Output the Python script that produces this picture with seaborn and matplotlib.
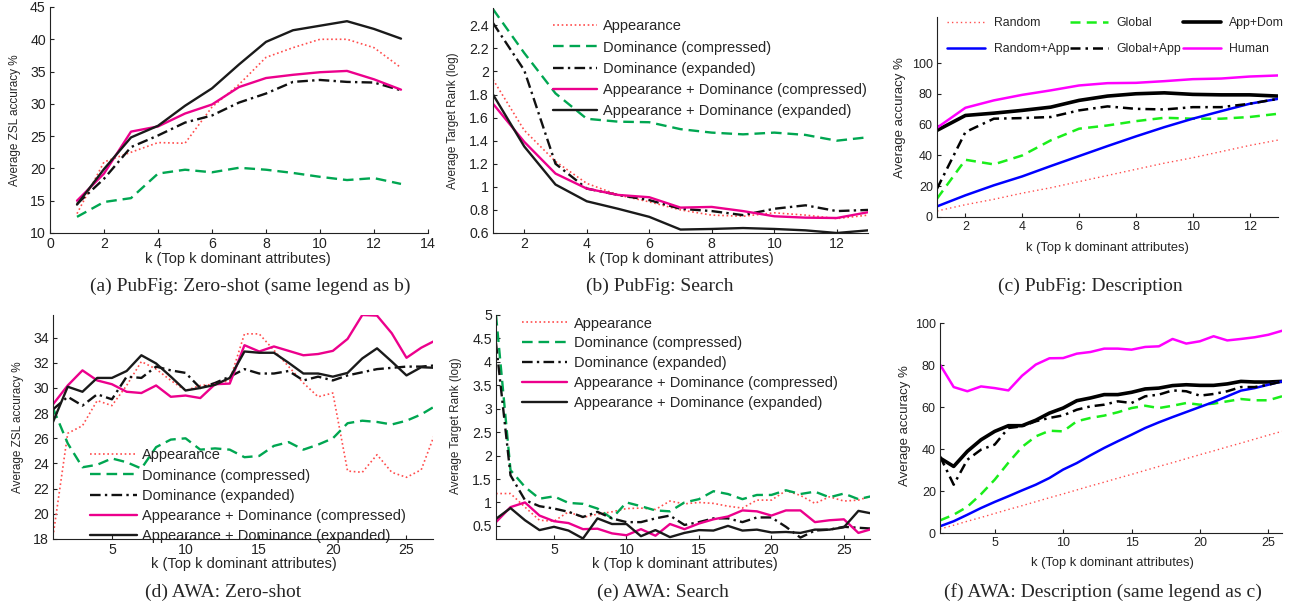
import matplotlib
matplotlib.use("Agg")
import matplotlib.pyplot as plt
import seaborn as sns

# -----------------------------
# data
# -----------------------------
k13 = list(range(1, 14))
k27 = list(range(1, 28))
k26 = list(range(1, 27))

# (a) PubFig zero-shot
a_app = [13.0, 21.0, 22.5, 24.0, 23.9, 29.5, 33.0, 37.2, 38.7, 40.0, 40.0, 38.7, 35.6]
a_dom_c = [12.5, 14.8, 15.4, 19.2, 19.8, 19.4, 20.1, 19.8, 19.3, 18.7, 18.2, 18.5, 17.6]
a_dom_e = [14.5, 18.4, 23.3, 25.1, 27.1, 28.2, 30.2, 31.6, 33.4, 33.7, 33.4, 33.3, 32.1]
a_ad_c = [15.0, 19.2, 25.7, 26.5, 28.5, 29.9, 32.6, 34.0, 34.5, 34.9, 35.1, 33.8, 32.2]
a_ad_e = [14.4, 19.9, 24.8, 26.6, 29.7, 32.4, 36.1, 39.6, 41.4, 42.1, 42.8, 41.6, 40.1]

# (b) PubFig search
b_app = [1.93, 1.49, 1.22, 1.03, 0.93, 0.87, 0.80, 0.755, 0.745, 0.775, 0.755, 0.725, 0.755]
b_dom_c = [2.54, 2.16, 1.81, 1.59, 1.565, 1.56, 1.50, 1.47, 1.455, 1.47, 1.45, 1.40, 1.43]
b_dom_e = [2.42, 2.01, 1.20, 0.985, 0.93, 0.885, 0.81, 0.79, 0.755, 0.81, 0.84, 0.79, 0.80]
b_ad_c = [1.72, 1.39, 1.115, 0.985, 0.93, 0.91, 0.82, 0.826, 0.79, 0.745, 0.733, 0.73, 0.78]
b_ad_e = [1.80, 1.35, 1.02, 0.875, 0.81, 0.74, 0.63, 0.635, 0.643, 0.635, 0.623, 0.60, 0.623]

# (c) PubFig description
c_random = [3.9, 8.0, 11.5, 15.5, 19.0, 23.0, 27.0, 31.0, 35.0, 38.5, 42.5, 46.5, 50.0]
c_global = [11.9, 37.2, 34.2, 40.0, 49.8, 57.4, 59.5, 62.3, 64.5, 63.9, 63.9, 65.0, 67.1]
c_appdom = [56.3, 66.0, 67.5, 69.3, 71.4, 75.8, 78.6, 80.1, 80.7, 79.7, 79.4, 79.4, 78.6]
c_random_app = [6.9, 14.1, 20.6, 26.4, 33.1, 39.6, 46.1, 52.4, 58.4, 63.9, 68.8, 73.6, 76.8]
c_global_app = [18.4, 55.2, 63.9, 64.3, 65.0, 69.3, 71.9, 70.3, 69.9, 71.4, 71.4, 73.6, 76.8]
c_human = [58.0, 71.0, 75.8, 79.4, 82.3, 85.5, 87.0, 87.2, 88.3, 89.6, 90.0, 91.3, 92.0]

# (d) AWA zero-shot
d_app = [18.2, 26.4, 27.0, 29.0, 28.6, 30.2, 32.1, 31.5, 30.6, 29.8, 30.2, 30.3, 30.6, 34.3,
         34.3, 33.0, 31.7, 30.4, 29.3, 29.6, 23.4, 23.3, 24.7, 23.3, 22.9, 23.5, 26.6]
d_dom_c = [28.4, 25.6, 23.7, 23.9, 24.4, 24.1, 23.6, 25.3, 25.9, 26.0, 25.1, 25.2, 25.1, 24.5,
           24.6, 25.4, 25.7, 25.1, 25.5, 26.0, 27.2, 27.4, 27.3, 27.1, 27.4, 27.9, 28.6]
d_dom_e = [28.3, 29.3, 28.6, 29.5, 29.1, 30.9, 30.8, 31.7, 31.4, 31.2, 30.0, 30.4, 30.9, 31.5,
           31.15, 31.15, 31.35, 30.6, 30.9, 30.6, 31.0, 31.25, 31.5, 31.6, 31.7, 31.7, 31.8]
d_ad_c = [28.7, 30.2, 31.4, 30.6, 30.3, 29.7, 29.6, 30.2, 29.3, 29.4, 29.2, 30.3, 30.35, 33.4,
          32.9, 33.3, 32.95, 32.6, 32.7, 32.95, 33.9, 35.8, 35.75, 34.35, 32.4, 33.2, 33.8]
d_ad_e = [27.3, 30.1, 29.7, 30.8, 30.8, 31.35, 32.6, 31.95, 30.9, 29.8, 30.0, 30.25, 30.8, 32.9,
          32.8, 32.8, 32.0, 31.15, 31.15, 30.9, 31.2, 32.35, 33.15, 32.1, 31.0, 31.65, 31.6]

# (e) AWA search
e_app = [1.19, 1.19, 0.90, 0.62, 0.60, 0.80, 0.68, 0.75, 0.80, 0.87, 0.88, 0.85, 1.03, 0.97,
         1.0, 0.98, 0.92, 0.88, 1.05, 1.05, 1.25, 1.15, 0.98, 1.12, 1.03, 1.05, 1.15]
e_dom_c = [5.0, 1.69, 1.33, 1.08, 1.13, 0.99, 0.97, 0.87, 0.66, 1.0, 0.92, 0.83, 0.81, 1.0,
           1.07, 1.24, 1.18, 1.07, 1.16, 1.16, 1.26, 1.18, 1.23, 1.11, 1.19, 1.07, 1.14]
e_dom_e = [4.4, 1.58, 1.05, 0.92, 0.87, 0.80, 0.69, 0.80, 0.66, 0.58, 0.58, 0.66, 0.72, 0.52,
           0.58, 0.66, 0.66, 0.58, 0.68, 0.68, 0.48, 0.25, 0.40, 0.42, 0.48, 0.46, 0.44]
e_ad_c = [0.58, 0.90, 1.0, 0.72, 0.60, 0.56, 0.43, 0.44, 0.34, 0.30, 0.43, 0.29, 0.54, 0.43,
          0.55, 0.64, 0.70, 0.83, 0.81, 0.72, 0.83, 0.83, 0.58, 0.62, 0.64, 0.35, 0.44]
e_ad_e = [0.65, 0.88, 0.62, 0.41, 0.48, 0.40, 0.23, 0.66, 0.54, 0.54, 0.28, 0.41, 0.26, 0.35,
          0.41, 0.40, 0.50, 0.40, 0.42, 0.36, 0.37, 0.35, 0.42, 0.42, 0.47, 0.82, 0.76]

# (f) AWA description
f_random = [1.9, 3.7, 5.6, 7.4, 9.3, 11.2, 13.0, 14.9, 16.8, 18.6, 20.5, 22.4, 24.2, 26.1,
            27.9, 29.8, 31.7, 33.5, 35.4, 37.3, 39.1, 41.0, 42.8, 44.7, 46.6, 48.4]
f_global = [6.0, 8.7, 12.5, 18.5, 25.4, 33.5, 41.0, 46.0, 48.7, 48.4, 53.2, 54.8, 55.9, 57.5,
            59.5, 60.6, 59.5, 60.6, 61.9, 61.1, 61.6, 62.7, 63.8, 63.2, 63.2, 65.1]
f_appdom = [35.7, 31.7, 38.9, 44.4, 48.4, 51.1, 51.1, 53.7, 57.1, 59.5, 63.0, 64.3, 65.9, 65.9,
            67.0, 68.6, 69.0, 70.2, 70.6, 70.3, 70.3, 71.0, 72.2, 71.9, 71.9, 72.2]
f_random_app = [3.2, 5.6, 8.7, 11.9, 14.8, 17.5, 20.3, 23.0, 26.2, 30.2, 33.3, 37.0, 40.5, 43.7,
                46.8, 50.0, 52.7, 55.2, 57.6, 60.0, 62.4, 65.1, 67.8, 69.0, 70.6, 72.2]
f_global_app = [36.5, 23.0, 34.9, 39.7, 42.1, 50.0, 50.8, 53.2, 54.8, 56.0, 58.7, 60.3, 61.1, 62.7,
                61.9, 65.1, 65.9, 67.9, 67.5, 65.4, 66.2, 67.5, 69.5, 69.5, 70.6, 72.2]
f_human = [80.2, 69.5, 67.5, 69.8, 69.0, 67.9, 74.9, 80.2, 83.2, 83.3, 85.4, 86.2, 87.8, 87.8,
           87.3, 88.6, 88.9, 92.4, 90.2, 91.3, 93.7, 91.7, 92.4, 93.2, 94.4, 96.3]

dom_names = ["Appearance", "Dominance (compressed)", "Dominance (expanded)",
             "Appearance + Dominance (compressed)", "Appearance + Dominance (expanded)"]
desc_names = ["Random", "Global", "App+Dom", "Random+App", "Global+App", "Human"]

# -----------------------------
# styles
# -----------------------------
dom_styles = {
    "Appearance": ("#ff4d4d", (0, (1, 1.6)), 1.2),
    "Dominance (compressed)": ("#00a651", (0, (4.5, 2.5)), 1.7),
    "Dominance (expanded)": ("#111111", (0, (4.5, 1.8, 1, 1.8)), 1.7),
    "Appearance + Dominance (compressed)": ("#ec008c", "-", 1.7),
    "Appearance + Dominance (expanded)": ("#1a1a1a", "-", 1.7),
}
desc_styles = {
    "Random": ("#ff4d4d", (0, (1, 2.2)), 1.0),
    "Global": ("#1aee1a", (0, (4, 2.5)), 1.8),
    "App+Dom": ("black", "-", 2.6),
    "Random+App": ("#0000ff", "-", 1.8),
    "Global+App": ("black", (0, (4, 2, 1, 2)), 1.8),
    "Human": ("#ff00ff", "-", 1.8),
}

sns.set_style("ticks", rc={"xtick.direction": "in", "ytick.direction": "in",
                           "axes.edgecolor": "#222222"})
plt.rcParams["font.family"] = ["Liberation Sans", "DejaVu Sans"]

W, H = 1299, 608
fig = plt.figure(figsize=(W / 100, H / 100), dpi=100)


def make_ax(l, t, r, b):
    return fig.add_axes([l / W, 1 - b / H, (r - l) / W, (b - t) / H])


def draw(ax, x, names, series, styles):
    for name, y in zip(names, series):
        c, ls, lw = styles[name]
        sns.lineplot(x=x, y=y, ax=ax, color=c, linestyle=ls, linewidth=lw,
                     label=name, errorbar=None, legend=False)


def finish(ax, ylab, ylab_xy, xlab_xy, fs, labfs):
    sns.despine(ax=ax)
    ax.tick_params(length=3, width=0.8, labelsize=fs, pad=3, colors="#222222")
    ax.set_ylabel(ylab, fontsize=labfs, va="center", ha="center")
    ax.yaxis.set_label_coords(*ylab_xy)
    ax.set_xlabel("k (Top k dominant attributes)", fontsize=fs + 0.3, va="center")
    ax.xaxis.set_label_coords(*xlab_xy)


def fmt(v):
    return f"{v:g}"


# (a)
ax = make_ax(50, 7, 428, 233)
draw(ax, k13, dom_names, [a_app, a_dom_c, a_dom_e, a_ad_c, a_ad_e], dom_styles)
ax.set_xlim(0, 14)
ax.set_ylim(10, 45)
ax.set_xticks(range(0, 15, 2))
ax.set_yticks(range(10, 46, 5))
finish(ax, "Average ZSL accuracy %", (-0.093, 0.5), (0.497, -0.117), 10.2, 8.5)

# (b)
ax = make_ax(493, 8, 868, 233)
draw(ax, k13, dom_names, [b_app, b_dom_c, b_dom_e, b_ad_c, b_ad_e], dom_styles)
ax.set_xlim(1, 13)
ax.set_ylim(0.6, 2.55)
ax.set_xticks(range(2, 13, 2))
yt = [0.6, 0.8, 1.0, 1.2, 1.4, 1.6, 1.8, 2.0, 2.2, 2.4]
ax.set_yticks(yt)
ax.set_yticklabels([fmt(v) for v in yt])
finish(ax, "Average Target Rank (log)", (-0.107, 0.5), (0.5, -0.117), 10.2, 8.5)
ax.legend(loc="upper left", bbox_to_anchor=(0.16, 0.95), frameon=False, fontsize=10.5,
          borderpad=0, borderaxespad=0, handlelength=3.0, handletextpad=0.4,
          labelspacing=0.5)

# (c)
ax = make_ax(937, 17, 1278, 217)
draw(ax, k13, desc_names, [c_random, c_global, c_appdom, c_random_app, c_global_app, c_human],
     desc_styles)
ax.set_xlim(1, 13)
ax.set_ylim(0, 130)
ax.set_xticks(range(2, 13, 2))
ax.set_yticks(range(0, 101, 20))
finish(ax, "Average accuracy %", (-0.109, 0.495), (0.5, -0.155), 9.0, 9.5)
h, l = ax.get_legend_handles_labels()
order = [0, 3, 1, 4, 2, 5]
ax.legend([h[i] for i in order], [l[i] for i in order], ncol=3, loc="upper left",
          bbox_to_anchor=(0.03, 1.0), frameon=False, fontsize=8.8, borderpad=0,
          borderaxespad=0, handlelength=3.1, handletextpad=0.7, labelspacing=1.15,
          columnspacing=0.1)

# (d)
ax = make_ax(53, 315, 433, 539)
draw(ax, k27, dom_names, [d_app, d_dom_c, d_dom_e, d_ad_c, d_ad_e], dom_styles)
ax.set_xlim(1, 26.8)
ax.set_ylim(18, 35.8)
ax.set_xticks(range(5, 26, 5))
ax.set_yticks(range(18, 35, 2))
finish(ax, "Average ZSL accuracy %", (-0.092, 0.5), (0.503, -0.112), 10.2, 8.5)
ax.legend(loc="upper left", bbox_to_anchor=(0.097, 0.405), frameon=False, fontsize=10.5,
          borderpad=0, borderaxespad=0, handlelength=3.2, handletextpad=0.4,
          labelspacing=0.43)

# (e)
ax = make_ax(496, 315, 870, 539)
draw(ax, k27, dom_names, [e_app, e_dom_c, e_dom_e, e_ad_c, e_ad_e], dom_styles)
ax.set_xlim(1, 26.8)
ax.set_ylim(0.22, 5.0)
ax.set_xticks(range(5, 26, 5))
yt = [0.5, 1.0, 1.5, 2.0, 2.5, 3.0, 3.5, 4.0, 4.5, 5.0]
ax.set_yticks(yt)
ax.set_yticklabels([fmt(v) for v in yt])
finish(ax, "Average Target Rank (log)", (-0.107, 0.504), (0.505, -0.112), 10.2, 8.5)
ax.legend(loc="upper left", bbox_to_anchor=(0.07, 0.993), frameon=False, fontsize=10.5,
          borderpad=0, borderaxespad=0, handlelength=3.1, handletextpad=0.48,
          labelspacing=0.4)

# (f)
ax = make_ax(940, 323, 1282, 533)
draw(ax, k26, desc_names, [f_random, f_global, f_appdom, f_random_app, f_global_app, f_human],
     desc_styles)
ax.set_xlim(1, 26)
ax.set_ylim(0, 100)
ax.set_xticks(range(5, 26, 5))
ax.set_yticks(range(0, 101, 20))
finish(ax, "Average accuracy %", (-0.102, 0.51), (0.503, -0.145), 9.0, 9.5)

# captions
caps = [
    (250, 286, "(a) PubFig: Zero-shot (same legend as b)"),
    (660, 286, "(b) PubFig: Search"),
    (1090, 286, "(c) PubFig: Description"),
    (223, 592, "(d) AWA: Zero-shot"),
    (663, 592, "(e) AWA: Search"),
    (1103, 592, "(f) AWA: Description (same legend as c)"),
]
for cx, cy, txt in caps:
    fig.text(cx / W, 1 - cy / H, txt, ha="center", va="center", fontsize=14,
             family=["Liberation Serif", "DejaVu Serif"])

fig.savefig("out.png", dpi=100)
